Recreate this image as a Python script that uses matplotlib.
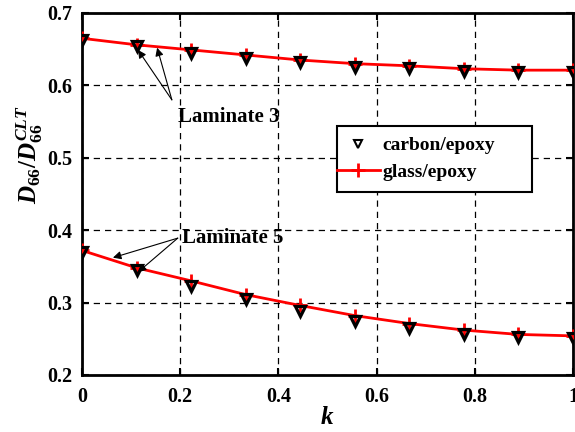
import numpy as np
import matplotlib
matplotlib.use("Agg")
import matplotlib.pyplot as plt
from matplotlib.patches import Rectangle

plt.rcParams.update({
    "font.family": "Liberation Serif",
    "font.weight": "bold",
    "mathtext.fontset": "custom",
    "mathtext.rm": "Liberation Serif:bold",
    "mathtext.it": "Liberation Serif:italic:bold",
    "mathtext.bf": "Liberation Serif:bold",
})

k = np.arange(10) / 9

# laminate 3
lam3_carbon = [0.663, 0.654, 0.645, 0.638, 0.632, 0.626, 0.624, 0.620, 0.619, 0.619]
lam3_glass = [0.665, 0.656, 0.649, 0.642, 0.635, 0.630, 0.627, 0.623, 0.621, 0.621]
# laminate 5
lam5_carbon = [0.370, 0.345, 0.323, 0.305, 0.288, 0.274, 0.265, 0.257, 0.252, 0.251]
lam5_glass = [0.372, 0.348, 0.330, 0.311, 0.296, 0.282, 0.271, 0.262, 0.256, 0.254]

fig = plt.figure(figsize=(5.75, 4.32), dpi=100)
ax = fig.add_axes([0.1426, 0.132, 0.854, 0.838])

for yg in (lam3_glass, lam5_glass):
    ax.plot(k, yg, color='red', lw=2, marker='+', ms=10, mew=2, zorder=3)
for yc in (lam3_carbon, lam5_carbon):
    ax.plot(k, yc, ls='none', marker='v', ms=7.5, mfc='none', mec='black', mew=2.3, zorder=4)

# legend box drawn separately (MATLAB style, wide right padding)
ax.add_patch(Rectangle((0.519, 0.506), 0.397, 0.182, transform=ax.transAxes,
                       facecolor='white', edgecolor='black', lw=1.5, zorder=5))
h1, = ax.plot([], [], ls='none', marker='v', ms=6, mfc='none', mec='black', mew=1.5)
h2, = ax.plot([], [], color='red', lw=2, marker='+', ms=10, mew=2)
leg = ax.legend([h1, h2], ['carbon/epoxy', 'glass/epoxy'], loc='center left',
                bbox_to_anchor=(0.519, 0.597), borderaxespad=0, frameon=False,
                fontsize=14, handlelength=2.2, handletextpad=0.15, borderpad=0,
                labelspacing=0.45)
leg.set_zorder(6)

arrow = dict(arrowstyle='-|>', color='black', lw=0.8, mutation_scale=12, shrinkA=0, shrinkB=0)
ax.text(0.196, 0.556, 'Laminate 3', fontsize=15, fontweight='bold', va='center')
ax.annotate('', xy=(0.114, 0.649), xytext=(0.183, 0.580), arrowprops=arrow)
ax.annotate('', xy=(0.153, 0.652), xytext=(0.183, 0.580), arrowprops=arrow)
ax.text(0.204, 0.389, 'Laminate 5', fontsize=15, fontweight='bold', va='center')
ax.annotate('', xy=(0.063, 0.362), xytext=(0.195, 0.389), arrowprops=arrow)
ax.annotate('', xy=(0.114, 0.342), xytext=(0.195, 0.389), arrowprops=arrow)

ax.set_xlim(0, 1)
ax.set_ylim(0.2, 0.7)
ax.set_xticks([0, 0.2, 0.4, 0.6, 0.8, 1])
ax.set_xticklabels(['0', '0.2', '0.4', '0.6', '0.8', '1'])
ax.set_yticks([0.2, 0.3, 0.4, 0.5, 0.6, 0.7])
ax.grid(True, color='black', ls=(0, (5, 4)), lw=0.9)
ax.tick_params(direction='in', top=True, right=True, length=5, width=1.5, labelsize=14.5)
ax.tick_params(axis='x', pad=9)
ax.tick_params(axis='y', pad=7)
for lab in ax.get_xticklabels() + ax.get_yticklabels():
    lab.set_fontweight('bold')
for s in ax.spines.values():
    s.set_linewidth(2)

ax.set_xlabel(r'$k$', fontsize=18, labelpad=0)
ax.set_ylabel(r'$\mathit{D_{66}/D_{66}^{CLT}}$', fontsize=18)
ax.yaxis.set_label_coords(-0.075, 0.608)

fig.savefig('out.png', dpi=100)
